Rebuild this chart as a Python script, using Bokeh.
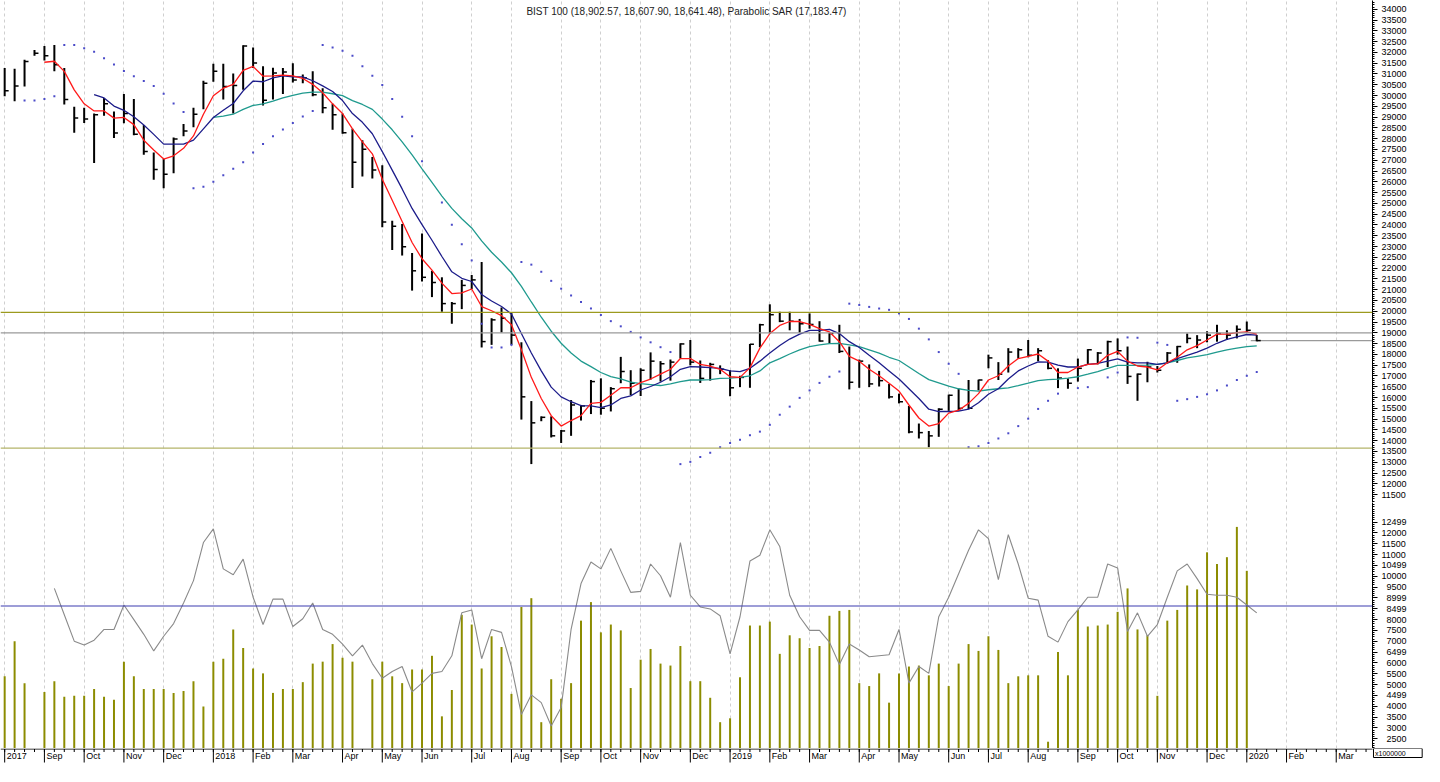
import numpy as np
from bokeh.plotting import figure
from bokeh.layouts import column
from bokeh.models import Range1d, FixedTicker, Span, Label, Grid
from bokeh.embed import file_html
from bokeh.resources import INLINE
from bokeh.core.properties import value

nan = float("nan")

# ---------------- data (weekly HLC, Aug 2017 - Dec 2019) ----------------
high = [31274, 31244, 31666, 32117, 32298, 32343, 31274, 29482, 29437, 29166,
        29888, 29256, 30069, 29843, 28638, 27358, 27057, 28051, 28684, 29437,
        30687, 31470, 31470, 31018, 32328, 32223, 31364, 31289, 31274, 31500,
        30973, 31123, 30340, 29617, 29166, 28458, 27931, 27147, 26771, 24196,
        24045, 22705, 23608, 21876, 21575, 20431, 21455, 21681, 22283, 19678,
        20175, 19919, 18563, 15837, 15129, 15129, 14497, 15883, 15657, 16816,
        16891, 16485, 17886, 17268, 17358, 18094, 17688, 17763, 18516, 18667,
        17718, 17612, 17492, 17266, 17010, 18486, 19420, 20323, 19977, 19977,
        19645, 19901, 19540, 18998, 19374, 18365, 17763, 17537, 17236, 16633,
        16182, 15609, 14796, 14450, 15504, 16136, 16408, 16814, 16829, 17989,
        17643, 18290, 18290, 18667, 18290, 17733, 17356, 16889, 17808, 18245,
        18109, 18636, 18742, 18365, 17115, 17658, 17462, 18109, 18395, 18968,
        18893, 19073, 19374, 19118, 19344, 19525, 18902.57]
low = [29964, 29738, 30416, 31846, 31620, 31123, 29587, 28277, 28729, 26876,
       29060, 28036, 28714, 28156, 27253, 26093, 25702, 26394, 28111, 28533,
       29361, 30642, 29813, 29166, 30265, 31274, 29542, 29813, 30069, 30611,
       30566, 29964, 29181, 28413, 28232, 25717, 26244, 26154, 23895, 22840,
       22584, 20958, 21380, 20657, 19979, 19422, 20100, 21033, 18322, 18443,
       19015, 18443, 14979, 12916, 14903, 14150, 13895, 14226, 14934, 15235,
       15205, 15356, 16665, 16109, 16070, 16829, 16739, 16784, 17808, 17492,
       16679, 16784, 17085, 16061, 16483, 16453, 18335, 18968, 19495, 19118,
       19013, 19194, 18591, 18516, 18064, 16378, 16453, 16483, 16513, 15956,
       15730, 14344, 14103, 13697, 14179, 15384, 15384, 15459, 16332, 17357,
       16814, 17160, 17808, 17868, 17688, 17311, 16438, 16408, 16739, 17537,
       17537, 17417, 17989, 16633, 15850, 16709, 17160, 17582, 17612, 18516,
       18290, 18561, 18591, 18667, 18742, 19043, 18607.90]
close = [30220, 30446, 31575, 31967, 31846, 31425, 29813, 28955, 28910, 29105,
         29617, 28262, 29166, 28202, 27404, 26575, 26349, 27991, 28352, 29135,
         30566, 31123, 30416, 30461, 32298, 31515, 29783, 31048, 31093, 30717,
         30822, 30039, 29437, 29105, 28277, 26907, 27509, 26545, 24136, 23940,
         22991, 21876, 21575, 21334, 20356, 20356, 21199, 21455, 18594, 19602,
         19678, 18895, 16033, 14828, 15084, 14226, 14452, 15657, 15612, 16741,
         15506, 16410, 17208, 16665, 17266, 17688, 17567, 17643, 18486, 17643,
         16889, 17537, 17311, 16453, 16935, 18471, 19374, 19841, 19540, 19540,
         19420, 19389, 18621, 18968, 18140, 16709, 17688, 16633, 16784, 16031,
         15805, 14405, 14374, 14224, 15459, 16106, 15500, 15504, 16814, 17838,
         17085, 18109, 18215, 17959, 18170, 17356, 16905, 16664, 17356, 18215,
         18064, 18591, 18170, 16980, 17085, 17417, 17266, 18064, 18365, 18742,
         18667, 18893, 18968, 18893, 19163, 19118, 18641.48]

ma_red = [nan, nan, nan, nan, 31545, 31590, 31123, 30265, 29617, 29286,
          29286, 28955, 28985, 28654, 27931, 27479, 27057, 27208, 27554, 28127,
          29135, 29994, 30340, 30521, 31169, 31349, 30897, 30912, 30943, 30912,
          30792, 30521, 30129, 29617, 29166, 28458, 27855, 27298, 26123, 25145,
          24166, 23187, 22434, 21907, 21304, 20822, 20852, 21033, 20220, 20024,
          19798, 19377, 18217, 16937, 15958, 15160, 14678, 14934, 15160, 15732,
          15777, 16109, 16455, 16455, 16695, 16859, 17085, 17311, 17808, 17808,
          17537, 17462, 17311, 16965, 16935, 17386, 18290, 18968, 19344, 19525,
          19525, 19389, 19194, 19043, 18591, 17913, 17688, 17311, 17010, 16664,
          16302, 15655, 15052, 14676, 14796, 15278, 15414, 15730, 16182, 16814,
          17010, 17462, 17808, 17914, 18019, 17688, 17161, 17161, 17416, 17537,
          17567, 17959, 18139, 17688, 17462, 17416, 17281, 17612, 17868, 18215,
          18410, 18667, 18938, 18938, 19013, 19043, 18938]
ma_navy = [nan, nan, nan, nan, nan, nan, nan, nan, nan, 30039,
           29888, 29512, 29316, 29015, 28638, 28202, 27750, 27750, 27750, 27931,
           28458, 28985, 29316, 29632, 30220, 30672, 30641, 30822, 30913, 30867,
           30867, 30687, 30446, 30190, 29768, 29166, 28759, 28232, 27404, 26545,
           25672, 24768, 24015, 23292, 22539, 21831, 21530, 21380, 20777, 20476,
           20220, 19873, 18970, 18066, 17238, 16485, 16033, 15807, 15627, 15612,
           15536, 15657, 15958, 16078, 16350, 16513, 16709, 16965, 17311, 17431,
           17416, 17386, 17356, 17236, 17206, 17356, 17688, 18064, 18410, 18712,
           18938, 19118, 19118, 19163, 18968, 18591, 18320, 17959, 17612, 17236,
           16859, 16408, 15956, 15459, 15353, 15353, 15368, 15459, 15760, 16152,
           16408, 16859, 17236, 17462, 17658, 17643, 17507, 17416, 17416, 17537,
           17582, 17688, 17793, 17643, 17612, 17612, 17537, 17612, 17808, 17959,
           18109, 18290, 18516, 18697, 18817, 18923, 18892]
ma_teal = [nan] * 21 + [
           28985, 29045, 29135, 29361, 29542, 29617, 29738, 29888, 30009,
           30114, 30160, 30160, 30084, 29994, 29768, 29587, 29361, 28910, 28413,
           27855, 27253, 26605, 25973, 25340, 24768, 24286, 23864, 23262, 22735,
           22283, 21786, 21154, 20431, 19723, 19075, 18518, 18066, 17690, 17433,
           17162, 16967, 16862, 16711, 16650, 16603, 16558, 16633, 16739, 16814,
           16814, 16829, 16889, 16905, 16935, 17010, 17236, 17612, 17808, 18019,
           18215, 18365, 18441, 18501, 18516, 18441, 18365, 18215, 18064, 17868,
           17718, 17417, 17115, 16829, 16679, 16528, 16408, 16332, 16302, 16362,
           16408, 16453, 16558, 16664, 16784, 16829, 16859, 16905, 16965, 17085,
           17206, 17356, 17492, 17492, 17492, 17507, 17537, 17612, 17718, 17838,
           17914, 17989, 18109, 18215, 18290, 18365, 18395]
sar = [nan, nan, 29768, 29768, 29843, 29964, 32343, 32343, 32193, 32027,
       31726, 31440, 31138, 30897, 30672, 30446, 30084, 29632, 29241, 25702,
       25777, 26003, 26304, 26605, 26907, 27358, 27750, 28112, 28428, 28729,
       29030, 29286, 32343, 32223, 32072, 31846, 31364, 30913, 30491, 29843,
       29015, 28112, 26952, nan, 25039, 24015, 23111, 22358, 19422, 18322,
       18322, 18443, 22283, 22162, 21831, 21410, 21048, 20732, 20431, 20130,
       19828, 19542, 19302, 19045, 18789, 18561, 18335, 18109, 12914, 13019,
       13245, 13441, 13697, 13893, 14043, 14254, 14420, 14736, 15203, 15579,
       15986, 16332, 16679, 16965, 17206, 20353, 20293, 20203, 20127, 20067,
       19901, 19645, 19194, 18697, 18109, 17567, 17100, 13697, 13742, 13893,
       14103, 14344, 14676, 15022, 15474, 15850, 16182, nan, 16438, 16483,
       nan, 16935, 17161, 18787, 18772, nan, 18546, 18441, 15850, 15926,
       16031, 16152, 16332, 16559, 16814, 17010, 17183.47]

volume = [5381, 7003, 5066, nan, 4660, 5156, 4435, 4480, 4480, 4795,
          4435, 4300, 6057, 5381, 4795, 4795, 4795, 4615, 4705, 5156,
          3985, 6057, 6192, 7544, 6688, 5742, 5516, 4615, 4795, 4795,
          5111, 5967, 6057, 6868, 6237, 6057, nan, 5246, 6057, 5381,
          5066, 5696, 5696, 6327, 3534, 4750, 8219, 7769, 5742, 7228,
          6733, 4570, 8580, 8985, 3264, 5246, 4345, 5066, 7949, 8805,
          7408, 7769, 7499, 4840, 6147, 6643, 5967, 5877, 6778, 5156,
          5156, 4390, 3264, 3444, 5336, 7724, 7724, 7904, 6417, 7273,
          7138, 6688, 6778, 8174, 8399, 8444, 5066, 4931, 5516, 4165,
          5516, 5832, 5877, 5426, 5967, 4931, 5967, 6868, 6552, 7228,
          6598, 5066, 5381, 5426, 5426, 2363, 6508, 5426, 8444, 7679,
          7724, 7769, 8354, 9436, 7544, 7273, 4480, 7949, 8444, 9571,
          9391, 11102, 10562, 10877, 12274, 10247, nan]
grey_line = [nan, nan, nan, nan, nan, 9436, 8219, 7003, 6823, 7048,
             7543, 7543, 8670, 7994, 7318, 6552, 7228, 7814, 8760, 9796,
             11553, 12184, 10337, 10066, 10787, 9030, 7769, 8940, 8940, 7679,
             8039, 8760, 7543, 7318, 6868, 6327, 6823, 5967, 5291, 5606,
             5832, 4660, 5066, 5516, 5606, 6327, 8309, 8444, 6192, 7543,
             7408, 5832, 3624, 4525, 4165, 3084, 3939, 7543, 9661, 10652,
             10337, 11283, 10246, 9255, 9300, 10562, 10021, 9030, 11553, 9120,
             8580, 8490, 8174, 6417, 8129, 10697, 10967, 12139, 11373, 9120,
             8129, 7498, 7498, 6958, 5922, 6868, 6597, 6282, 6327, 6372,
             7543, 5066, 5832, 5516, 8129, 9030, 10111, 11193, 12139, 11733,
             9841, 11913, 10562, 8985, 8895, 7228, 6958, 7904, 8444, 9030,
             9030, 10562, 10382, 7453, 8309, 7228, 7769, 9030, 10246, 10562,
             9886, 9165, 9120, 9120, 9030, 8670, 8309]

resistance = 19950
support = 13660
level_mid = 19000
volume_level = 8625

month_ticks = [0, 4, 8, 12, 16, 21, 25, 29, 34, 38, 42, 47, 51, 56, 60, 64,
               69, 73, 77, 81, 86, 90, 95, 99, 103, 108, 112, 116, 121, 125, 129, 134]
month_labels = ["2017", "Sep", "Oct", "Nov", "Dec", "2018", "Feb", "Mar", "Apr", "May",
                "Jun", "Jul", "Aug", "Sep", "Oct", "Nov", "Dec", "2019", "Feb", "Mar",
                "Apr", "May", "Jun", "Jul", "Aug", "Sep", "Oct", "Nov", "Dec", "2020",
                "Feb", "Mar"]

# ---------------- layout constants ----------------
n = len(close)
weeks = np.arange(n)
X0, X1 = -0.42, 137.65
FW = 1372
FONT = "Liberation Sans"
GRID_COLOR = "#cfcfcf"


def style_right_axis(ax):
    ax.axis_line_color = "black"
    ax.major_tick_out = 5
    ax.major_tick_in = 0
    ax.minor_tick_out = 2
    ax.minor_tick_in = 0
    ax.major_tick_line_color = "black"
    ax.minor_tick_line_color = "black"
    ax.major_label_text_font = FONT
    ax.major_label_text_font_size = "9px"
    ax.major_label_text_color = "black"
    ax.major_label_standoff = 4


def month_grid(p):
    p.grid.visible = False
    g = Grid(dimension=0, ticker=FixedTicker(ticks=month_ticks),
             grid_line_color=GRID_COLOR, grid_line_dash="3 3", grid_line_width=1)
    p.add_layout(g)


# ---------------- price pane ----------------
p1 = figure(frame_width=FW, frame_height=502, x_range=Range1d(X0, X1),
            y_range=Range1d(11135, 34407), output_backend="svg", toolbar_location=None,
            x_axis_location=None, y_axis_location="right",
            min_border_left=0, min_border_right=0, min_border_top=0, min_border_bottom=0)
p1.outline_line_color = None
p1.background_fill_color = "white"
month_grid(p1)
style_right_axis(p1.yaxis[0])
p1.yaxis[0].ticker = FixedTicker(ticks=list(range(11500, 34001, 500)),
                                 minor_ticks=list(range(11200, 34400, 100)))

p1.add_layout(Span(location=resistance, dimension="width", line_color="#9c9a1e", line_width=1.2))
p1.add_layout(Span(location=support, dimension="width", line_color="#b4b46a", line_width=1.2))
p1.add_layout(Span(location=level_mid, dimension="width", line_color="#9a9a9a", line_width=1.2))
p1.segment(x0=[n - 1.6], y0=[close[-1]], x1=[X1], y1=[close[-1]], line_color="#9a9a9a", line_width=1.2)

p1.segment(x0=weeks, y0=low, x1=weeks, y1=high, line_color="black", line_width=2)
p1.segment(x0=weeks, y0=close, x1=weeks + 0.4, y1=close, line_color="black", line_width=1.5)

p1.line(weeks, ma_teal, line_color="#1f9a8e", line_width=1.3)
p1.line(weeks, ma_navy, line_color="#1c1c8a", line_width=1.3)
p1.line(weeks, ma_red, line_color="#ff1a1a", line_width=1.3)
p1.scatter(weeks, sar, marker="square", size=2, line_color=None, fill_color="#4a4ac8")

title = "BIST 100 ({:,.2f}, {:,.2f}, {:,.2f}), Parabolic SAR ({:,.2f})".format(
    high[-1], low[-1], close[-1], sar[-1])
p1.add_layout(Label(x=686, y=491, x_units="screen", y_units="screen", text=title,
                    text_font=FONT, text_font_size="10px", text_color="#222222",
                    text_align="center", text_baseline="middle"))

# ---------------- volume pane ----------------
p2 = figure(frame_width=FW, frame_height=246, x_range=p1.x_range,
            y_range=Range1d(2050, 13400), output_backend="svg", toolbar_location=None,
            x_axis_location=None, y_axis_location="right",
            min_border_left=0, min_border_right=0, min_border_top=0, min_border_bottom=0)
p2.outline_line_color = None
month_grid(p2)
style_right_axis(p2.yaxis[0])
odd = {4500: "4499", 6500: "6499", 8500: "8499", 9000: "8999", 10500: "10499", 12500: "12499"}
vol_ticks = list(range(2500, 12501, 500))
overrides = {}
for t in vol_ticks:
    s = odd.get(t, str(t))
    overrides[t] = "\u00a0\u00a0" * (5 - len(s)) + s
p2.yaxis[0].ticker = FixedTicker(ticks=vol_ticks, minor_ticks=list(range(2100, 13400, 100)))
p2.yaxis[0].major_label_overrides = overrides

p2.vbar(x=weeks, top=volume, bottom=0, width=0.2, fill_color="#8c8c00", line_color=None)
p2.line(weeks, grey_line, line_color="#8a8a8a", line_width=1.1)
p2.add_layout(Span(location=volume_level, dimension="width", line_color="#3c3cb0", line_width=1.1))

# ---------------- date axis strip (axis line, ticks, labels, unit box) ----------------
SW = 1424
SX1 = X0 + (X1 - X0) * SW / FW
p3 = figure(frame_width=SW, frame_height=18, x_range=Range1d(X0, SX1),
            y_range=Range1d(0, 18), output_backend="svg", toolbar_location=None,
            x_axis_location=None, y_axis_location=None,
            min_border_left=0, min_border_right=0, min_border_top=0, min_border_bottom=0)
p3.outline_line_color = None
p3.grid.visible = False
all_weeks = list(range(0, int(X1) + 1))
p3.segment(x0=[X0], y0=[17.5], x1=[X1], y1=[17.5], line_color="black", line_width=1)
p3.segment(x0=all_weeks, y0=17.5, x1=all_weeks, y1=14.5, line_color="black", line_width=1)
p3.segment(x0=month_ticks, y0=17.5, x1=month_ticks, y1=4.0, line_color="black", line_width=1)
p3.text(x=[t + 0.2 for t in month_ticks], y=10.5, text=month_labels,
        text_font=value(FONT), text_font_size="9px", text_color="black",
        text_align="left", text_baseline="middle")
p3.quad(left=[X1 + 0.1], right=[X1 + 5.0], top=[18.0], bottom=[9.0],
        fill_color="white", line_color="black", line_width=1)
p3.text(x=[X1 + 0.25], y=[13.5], text=["x1000000"], text_font=value(FONT),
        text_font_size="7px", text_color="black", text_align="left", text_baseline="middle")

layout = column(p1, p2, p3, spacing=0)
open("out.html", "w").write(file_html(layout, INLINE))
